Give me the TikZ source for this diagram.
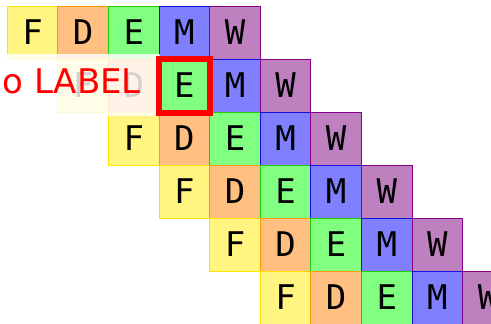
\documentclass[tikz,border=0pt]{standalone}
\usepackage{xcolor}
\usepackage{fontspec}
\usepackage{tikz}
\usetikzlibrary{positioning,calc}
\newfontfamily\plcellfont{DejaVu Sans Mono}
\newfontfamily\pllabelfont{DejaVu Sans}
\definecolor{PLFfill}{HTML}{FFF580}
\definecolor{PLFline}{HTML}{FFE400}
\definecolor{PLDfill}{HTML}{FFBF80}
\definecolor{PLDline}{HTML}{FF9900}
\definecolor{PLEfill}{HTML}{80FF80}
\definecolor{PLEline}{HTML}{22CC00}
\definecolor{PLMfill}{HTML}{8080FF}
\definecolor{PLMline}{HTML}{1010E0}
\definecolor{PLWfill}{HTML}{BF80BF}
\definecolor{PLWline}{HTML}{880088}
\definecolor{PLRed}{HTML}{FF0000}
\tikzset{
  plcell/.style={
    rectangle,
    line width=1pt,
    inner sep=0pt,
    minimum width=50.6pt,
    minimum height=53pt,
    font=\plcellfont\fontsize{34}{40}\selectfont,
    text=black
  },
  plstage/.style={plcell,fill=PL#1fill,draw=PL#1line},
  plfade/.style={rectangle,fill=white,fill opacity=0.82,draw=none,
    minimum width=179.5pt,minimum height=62pt,inner sep=0pt},
  plhit/.style={draw=PLRed,line width=6pt},
  pllabel/.style={font=\pllabelfont\fontsize{34}{40}\selectfont,text=PLRed,inner sep=0pt},
}
\begin{document}
\begin{tikzpicture}[x=1pt,y=-1pt]
  \useasboundingbox (0,0) rectangle (491,324);
  \clip (0,0) rectangle (491,324);

  % one row per instruction, each shifted one stage to the right
  \foreach \row in {1,...,6}
    \foreach \stage [count=\col] in {F,D,E,M,W}
      \node[plstage=\stage] (r\row\stage)
        at ({32.6+50.6*(\row+\col-2)},{32.5+53*(\row-1)}) {\stage};

  \node[plfade] (fade) at (69.75,85) {};
  \draw[plhit] (r2E.north west) rectangle (r2E.south east);
  \node[pllabel,anchor=base east] (lbl) at (141,93) {o LABEL};
\end{tikzpicture}
\end{document}
